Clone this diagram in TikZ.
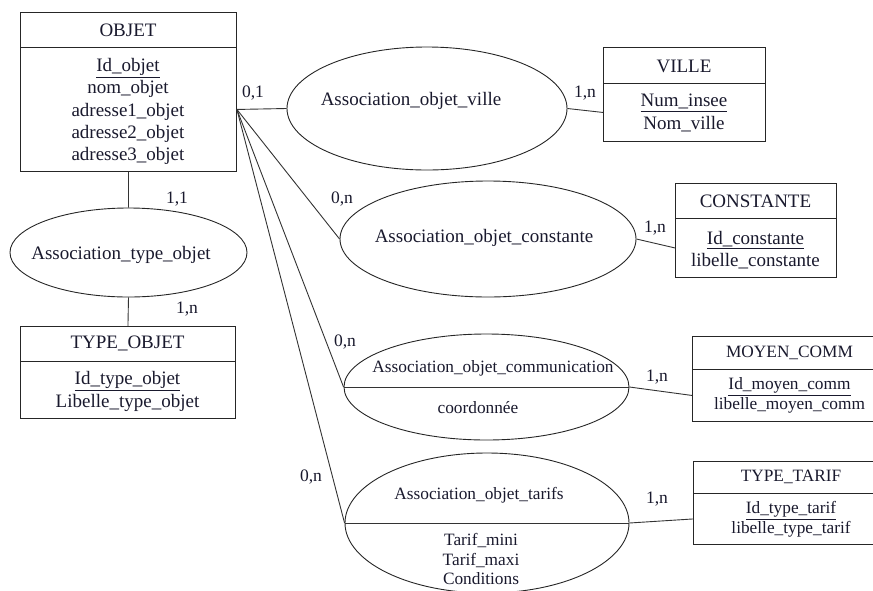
\documentclass[tikz,border=0pt]{standalone}
\usepackage{fontspec}
\setmainfont{Liberation Serif}
\usetikzlibrary{shapes.geometric}
\definecolor{ink}{RGB}{25,25,45}
\begin{document}
\begin{tikzpicture}[x=1pt,y=-1pt,
  every node/.style={font=\fontsize{19}{22.2}\selectfont, text=ink},
  small/.style={font=\fontsize{17.3}{19.8}\selectfont},
  card/.style={inner sep=0pt, font=\fontsize{17.5}{20}\selectfont},
  box/.style={draw=black!85, rectangle, inner sep=0pt, line width=0.9pt, anchor=north west},
  ell/.style={draw=black!85, ellipse, inner sep=0pt, line width=0.9pt},
  lnk/.style={line width=0.9pt, draw=black!80},
  lbl/.style={inner sep=0pt, align=center},
]
\useasboundingbox (0,0) rectangle (873,590);
\clip (0,0) rectangle (873,590);

% OBJET
\node[box, minimum width=216pt, minimum height=35pt] (objh) at (20,12) {};
\node[box, minimum width=216pt, minimum height=124pt] (objb) at (20,47) {};
\node[lbl] (objt) at (128,30) {OBJET};
\node[lbl] (obja) at (128,111.5) {\underline{Id\_objet}\\nom\_objet\\adresse1\_objet\\adresse2\_objet\\adresse3\_objet};

% VILLE
\node[box, minimum width=162pt, minimum height=36pt] (villeh) at (603,47) {};
\node[box, minimum width=162pt, minimum height=58pt] (villeb) at (603,83) {};
\node[lbl] (villet) at (684,66) {VILLE};
\node[lbl] (villea) at (684,113) {\underline{Num\_insee}\\Nom\_ville};

% CONSTANTE
\node[box, minimum width=161pt, minimum height=35pt] (consth) at (675,183) {};
\node[box, minimum width=161pt, minimum height=59pt] (constb) at (675,218) {};
\node[lbl] (constt) at (755.5,201) {CONSTANTE};
\node[lbl] (consta) at (755.5,250.5) {\underline{Id\_constante}\\libelle\_constante};

% MOYEN_COMM
\node[box, minimum width=195pt, minimum height=33pt] (moyh) at (692,336) {};
\node[box, minimum width=195pt, minimum height=52pt] (moyb) at (692,369) {};
\node[lbl, small] (moyt) at (789.5,353) {MOYEN\_COMM};
\node[lbl, small] (moya) at (789.5,395.5) {\underline{Id\_moyen\_comm}\\libelle\_moyen\_comm};

% TYPE_TARIF
\node[box, minimum width=196pt, minimum height=32pt] (tth) at (693,461) {};
\node[box, minimum width=196pt, minimum height=51pt] (ttb) at (693,493) {};
\node[lbl, small] (ttt) at (791,477) {TYPE\_TARIF};
\node[lbl, small] (tta) at (791,519.5) {\underline{Id\_type\_tarif}\\libelle\_type\_tarif};

% TYPE_OBJET
\node[box, minimum width=215pt, minimum height=35pt] (toh) at (20,326) {};
\node[box, minimum width=215pt, minimum height=57pt] (tob) at (20,361) {};
\node[lbl] (tot) at (127.5,343) {TYPE\_OBJET};
\node[lbl] (toa) at (127.5,391.5) {\underline{Id\_type\_objet}\\Libelle\_type\_objet};

% Associations
\node[ell, minimum width=280pt, minimum height=123pt] (eville) at (427,108.5) {};
\node[lbl] (evillet) at (411,101) {Association\_objet\_ville};

\node[ell, minimum width=296pt, minimum height=116pt] (econst) at (488,239) {};
\node[lbl] (econstt) at (484,238) {Association\_objet\_constante};

\node[ell, minimum width=285pt, minimum height=106pt] (ecomm) at (486.5,387) {};
\node[lbl, small] (ecommt) at (493,368) {Association\_objet\_communication};
\node[lbl, small] (ecomma) at (478,408) {coordonnée};

\node[ell, minimum width=284pt, minimum height=140pt] (etarif) at (487,523) {};
\node[lbl, small] (etarift) at (479,495) {Association\_objet\_tarifs};
\node[lbl, small] (etarifa) at (481,559) {Tarif\_mini\\Tarif\_maxi\\Conditions};

\node[ell, minimum width=237pt, minimum height=89pt] (etype) at (128.5,252.5) {};
\node[lbl] (etypet) at (121,255) {Association\_type\_objet};

% connectors
\coordinate (J) at (objb.east);
\draw[lnk] (J) -- (eville.west);
\draw[lnk] (J) -- (econst.west);
\draw[lnk] (J) -- (ecomm.west);
\draw[lnk] (J) -- (etarif.west);
\draw[lnk] (ecomm.west) -- (ecomm.east);
\draw[lnk] (etarif.west) -- (etarif.east);
\draw[lnk] (eville.east) -- (villeb.west);
\draw[lnk] (econst.east) -- (constb.west);
\draw[lnk] (ecomm.east) -- (moyb.west);
\draw[lnk] (etarif.east) -- (ttb.west);
\draw[lnk] (objb.south) -- (etype.north);
\draw[lnk] (etype.south) -- (toh.north);

% cardinalities
\node[card] (c1) at (253,93) {0,1};
\node[card] (c2) at (585,93) {1,n};
\node[card] (c3) at (342,199) {0,n};
\node[card] (c4) at (655,228) {1,n};
\node[card] (c5) at (345,342) {0,n};
\node[card] (c6) at (657,377) {1,n};
\node[card] (c7) at (311,477) {0,n};
\node[card] (c8) at (657,499) {1,n};
\node[card] (c9) at (177,199) {1,1};
\node[card] (c10) at (187,309) {1,n};
\end{tikzpicture}
\end{document}
